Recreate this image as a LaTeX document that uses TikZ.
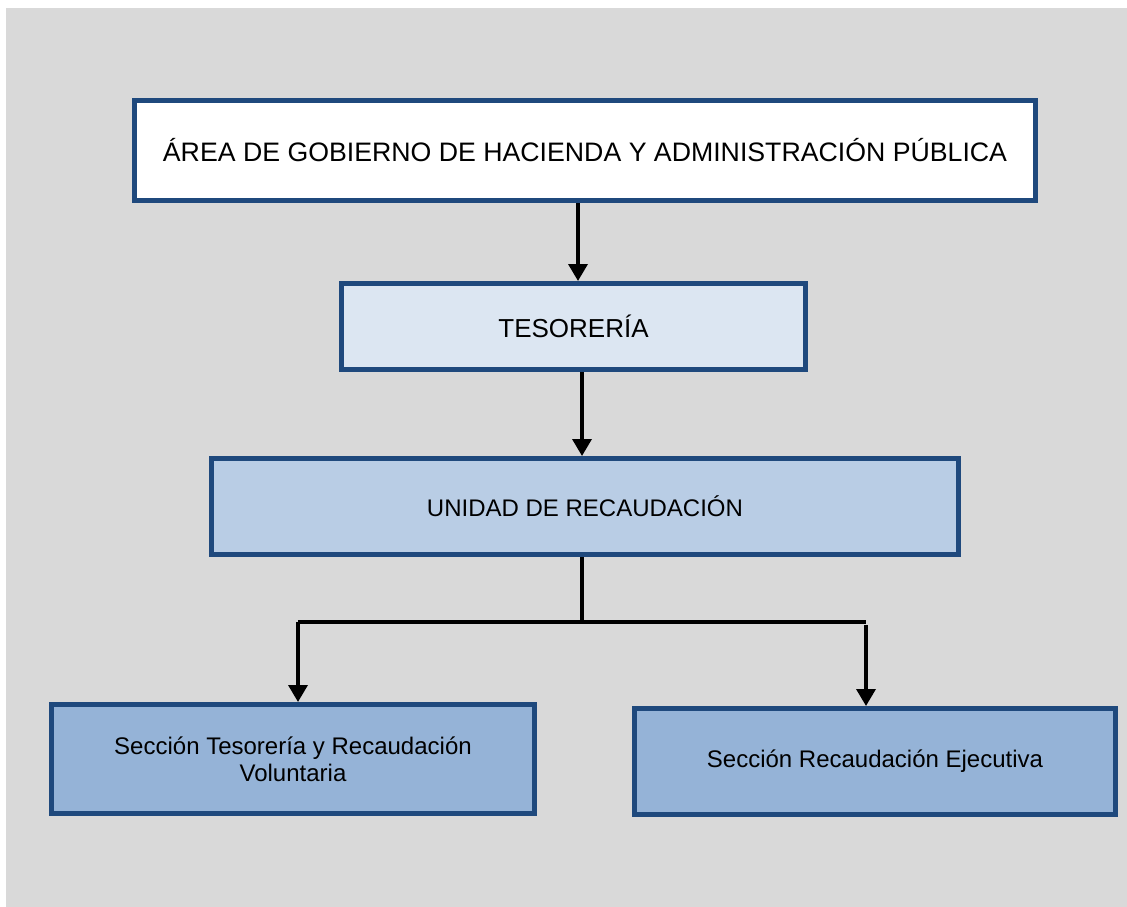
\documentclass[tikz,border=0pt]{standalone}
\usepackage{fontspec}
\setmainfont{Liberation Sans}
\usetikzlibrary{arrows.meta}
\definecolor{bgray}{HTML}{D9D9D9}
\definecolor{bord}{HTML}{1F497D}
\definecolor{fillA}{HTML}{DCE6F2}
\definecolor{fillB}{HTML}{B9CDE5}
\definecolor{fillC}{HTML}{95B3D7}
\tikzset{
  orgbox/.style={draw=bord, line width=5pt, rectangle, outer sep=2.5pt, inner sep=0pt, align=center, text=black},
  conn/.style={draw=black, line width=3.5pt},
  arr/.style={conn, -{Triangle[width=19pt,length=17pt]}},
}
\begin{document}
\begin{tikzpicture}[x=1pt,y=-1pt]
\useasboundingbox (0,0) rectangle (1127,907);
\fill[bgray] (6,8) rectangle (1127,907);
\node[orgbox, fill=white, minimum width=901pt, minimum height=100pt, font=\fontsize{26.7}{30}\selectfont] (top) at (585,150.5) {ÁREA DE GOBIERNO DE HACIENDA Y ADMINISTRACIÓN PÚBLICA};
\node[orgbox, fill=fillA, minimum width=464pt, minimum height=86pt, font=\fontsize{26}{29}\selectfont] (tes) at (573.5,326.5) {TESORERÍA};
\node[orgbox, fill=fillB, minimum width=747pt, minimum height=96pt, font=\fontsize{24}{27}\selectfont] (uni) at (585,506.5) {UNIDAD DE RECAUDACIÓN};
\node[orgbox, fill=fillC, minimum width=483pt, minimum height=109pt, font=\fontsize{24}{27}\selectfont] (left) at (293,759) {Sección Tesorería y Recaudación\\Voluntaria};
\node[orgbox, fill=fillC, minimum width=481pt, minimum height=106pt, font=\fontsize{24}{27}\selectfont] (right) at (875,761.5) {Sección Recaudación Ejecutiva};
\coordinate (c1) at (578,0);
\coordinate (c2) at (582,0);
\coordinate (jn) at (582,622);
\coordinate (jl) at (298,622);
\coordinate (jr) at (866,622);
\coordinate (jr2) at (866,625);
\draw[arr] (top.south -| c1) -- (tes.north -| c1);
\draw[arr] (tes.south -| c2) -- (uni.north -| c2);
\draw[conn] (uni.south -| c2) -- (jn);
\draw[conn] (jl) -- (jr);
\draw[arr] (jl) -- (left.north -| jl);
\draw[arr] (jr2) -- (right.north -| jr2);
\end{tikzpicture}
\end{document}
